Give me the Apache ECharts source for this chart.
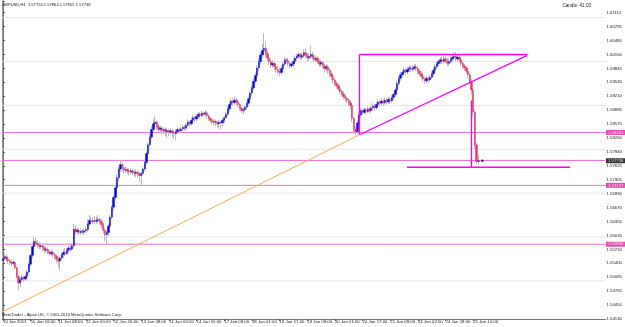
<!DOCTYPE html>
<html><head><meta charset="utf-8">
<script src="https://cdn.jsdelivr.net/npm/echarts@6/dist/echarts.min.js"></script>
<style>html,body{margin:0;padding:0;background:#fff;overflow:hidden}#c{width:625px;height:327px}</style>
</head><body><div id="c"></div>
<script>
const xTickLabels = ["10 Jan 2011","10 Jan 16:00","11 Jan 08:00","12 Jan 00:00","12 Jan 16:00","13 Jan 08:00","14 Jan 00:00","14 Jan 16:00","17 Jan 09:00","18 Jan 01:00","18 Jan 17:00","19 Jan 09:00","20 Jan 01:00","20 Jan 17:00","21 Jan 09:00","24 Jan 02:00","24 Jan 18:00","25 Jan 10:00"];
const barsPerTick = 16;
const totalSlots = 349;
const yTickLabels = ["1.54130","1.54450","1.54765","1.55085","1.55400","1.55720","1.56035","1.56355","1.56670","1.56990","1.57305","1.57625","1.57940","1.58260","1.58575","1.58895","1.59210","1.59530","1.59845","1.60160","1.60480","1.60795","1.61115"];
const yMin = 1.5413, yStep = 0.003175, yMax = 1.6138;
const gridLevels = [1.55,1.56,1.57,1.58,1.59,1.60,1.61];
const levelLines = [1.58383,1.57745,1.57177,1.55835];
const levelTags = ["1.58383","","1.57177","1.55835"];
const lastPrice = 1.57738;
const lastPriceTag = "1.57738";
const titleText = "GBPUSD,H1  1.57724 1.57864 1.57655 1.57738";
const timerText = "Candle: 41:03";
const copyrightText = "MetaTrader - Alpari UK, \u00a9 2001-2010 MetaQuotes Software Corp.";
const orangeTrend = [[-1,1.5428],[206.2,1.5833]];
const triangleTop = [[206.2,1.6016],[303.3,1.6016]];
const triangleLeft = [[206.2,1.6016],[206.2,1.5833]];
const triangleLower = [[206.2,1.5833],[303.3,1.6014]];
const shortLevel = [[233.7,1.5759],[328,1.5759]];
const verticalMark = [[271,1.5911],[271,1.5759]];
const priceDot = [[277.3,1.57738]];
// [open, close, low, high]
const candles = [
[1.5546,1.5551,1.5540,1.5560],[1.5551,1.5555,1.5546,1.5562],[1.5555,1.5549,1.5543,1.5560],[1.5549,1.5545,1.5539,1.5553],
[1.5545,1.5543,1.5536,1.5550],[1.5543,1.5540,1.5533,1.5548],[1.5540,1.5542,1.5535,1.5547],[1.5542,1.5530,1.5526,1.5546],
[1.5530,1.5510,1.5505,1.5533],[1.5510,1.5495,1.5478,1.5514],[1.5495,1.5503,1.5485,1.5508],[1.5503,1.5508,1.5497,1.5514],
[1.5508,1.5504,1.5498,1.5512],[1.5504,1.5510,1.5500,1.5516],[1.5510,1.5520,1.5506,1.5526],[1.5520,1.5538,1.5515,1.5542],
[1.5538,1.5558,1.5533,1.5562],[1.5558,1.5578,1.5552,1.5585],[1.5578,1.5590,1.5572,1.5600],[1.5590,1.5585,1.5578,1.5598],
[1.5585,1.5582,1.5575,1.5592],[1.5582,1.5578,1.5572,1.5588],[1.5578,1.5580,1.5573,1.5586],[1.5580,1.5575,1.5568,1.5584],
[1.5575,1.5570,1.5564,1.5579],[1.5570,1.5572,1.5564,1.5578],[1.5572,1.5566,1.5560,1.5576],[1.5566,1.5562,1.5556,1.5570],
[1.5562,1.5565,1.5557,1.5572],[1.5565,1.5560,1.5553,1.5569],[1.5560,1.5556,1.5548,1.5564],[1.5556,1.5550,1.5540,1.5560],
[1.5550,1.5545,1.5530,1.5555],[1.5545,1.5552,1.5523,1.5556],[1.5552,1.5560,1.5546,1.5565],[1.5560,1.5565,1.5553,1.5572],
[1.5565,1.5562,1.5556,1.5575],[1.5562,1.5570,1.5558,1.5576],[1.5570,1.5575,1.5563,1.5580],[1.5575,1.5572,1.5566,1.5582],
[1.5572,1.5580,1.5568,1.5586],[1.5580,1.5618,1.5576,1.5630],[1.5618,1.5612,1.5606,1.5626],[1.5612,1.5615,1.5607,1.5622],
[1.5615,1.5610,1.5604,1.5620],[1.5610,1.5613,1.5605,1.5619],[1.5613,1.5611,1.5606,1.5618],[1.5611,1.5614,1.5605,1.5620],
[1.5614,1.5617,1.5608,1.5625],[1.5617,1.5630,1.5612,1.5640],[1.5630,1.5638,1.5625,1.5650],[1.5638,1.5635,1.5628,1.5645],
[1.5635,1.5637,1.5630,1.5645],[1.5637,1.5636,1.5629,1.5648],[1.5636,1.5638,1.5630,1.5646],[1.5638,1.5640,1.5632,1.5650],
[1.5640,1.5635,1.5628,1.5644],[1.5635,1.5628,1.5620,1.5640],[1.5628,1.5615,1.5608,1.5632],[1.5615,1.5605,1.5590,1.5620],
[1.5605,1.5610,1.5582,1.5616],[1.5610,1.5625,1.5602,1.5630],[1.5625,1.5645,1.5620,1.5650],[1.5645,1.5668,1.5640,1.5672],
[1.5668,1.5690,1.5662,1.5695],[1.5690,1.5712,1.5685,1.5718],[1.5712,1.5735,1.5705,1.5742],[1.5735,1.5755,1.5728,1.5760],
[1.5755,1.5765,1.5748,1.5775],[1.5765,1.5758,1.5750,1.5770],[1.5758,1.5752,1.5745,1.5764],[1.5752,1.5754,1.5746,1.5760],
[1.5754,1.5750,1.5744,1.5758],[1.5750,1.5748,1.5740,1.5756],[1.5748,1.5751,1.5742,1.5757],[1.5751,1.5747,1.5740,1.5755],
[1.5747,1.5745,1.5738,1.5753],[1.5745,1.5748,1.5736,1.5754],[1.5748,1.5744,1.5734,1.5752],[1.5744,1.5740,1.5726,1.5748],
[1.5740,1.5745,1.5718,1.5750],[1.5745,1.5755,1.5740,1.5760],[1.5755,1.5770,1.5750,1.5776],[1.5770,1.5790,1.5765,1.5795],
[1.5790,1.5810,1.5784,1.5816],[1.5810,1.5828,1.5805,1.5835],[1.5828,1.5845,1.5822,1.5852],[1.5845,1.5858,1.5840,1.5868],
[1.5858,1.5862,1.5850,1.5875],[1.5862,1.5852,1.5845,1.5866],[1.5852,1.5845,1.5838,1.5858],[1.5845,1.5848,1.5836,1.5854],
[1.5848,1.5842,1.5835,1.5852],[1.5842,1.5845,1.5834,1.5850],[1.5845,1.5840,1.5830,1.5849],[1.5840,1.5843,1.5826,1.5848],
[1.5843,1.5839,1.5830,1.5847],[1.5839,1.5842,1.5833,1.5848],[1.5842,1.5838,1.5828,1.5846],[1.5838,1.5836,1.5824,1.5843],
[1.5836,1.5840,1.5820,1.5845],[1.5840,1.5845,1.5834,1.5850],[1.5845,1.5842,1.5836,1.5849],[1.5842,1.5846,1.5838,1.5852],
[1.5846,1.5850,1.5840,1.5856],[1.5850,1.5848,1.5842,1.5855],[1.5848,1.5855,1.5844,1.5860],[1.5855,1.5862,1.5850,1.5868],
[1.5862,1.5858,1.5852,1.5866],[1.5858,1.5866,1.5854,1.5872],[1.5866,1.5872,1.5860,1.5878],[1.5872,1.5869,1.5862,1.5876],
[1.5869,1.5875,1.5864,1.5880],[1.5875,1.5880,1.5870,1.5885],[1.5880,1.5877,1.5871,1.5884],[1.5877,1.5882,1.5873,1.5888],
[1.5882,1.5880,1.5874,1.5886],[1.5880,1.5883,1.5876,1.5889],[1.5883,1.5876,1.5870,1.5887],[1.5876,1.5870,1.5864,1.5880],
[1.5870,1.5866,1.5860,1.5874],[1.5866,1.5862,1.5856,1.5870],[1.5862,1.5864,1.5855,1.5869],[1.5864,1.5860,1.5852,1.5868],
[1.5860,1.5858,1.5850,1.5865],[1.5858,1.5862,1.5848,1.5866],[1.5862,1.5860,1.5845,1.5866],[1.5860,1.5866,1.5852,1.5870],
[1.5866,1.5872,1.5860,1.5876],[1.5872,1.5880,1.5868,1.5885],[1.5880,1.5892,1.5875,1.5898],[1.5892,1.5902,1.5886,1.5908],
[1.5902,1.5910,1.5896,1.5916],[1.5910,1.5906,1.5900,1.5916],[1.5906,1.5912,1.5902,1.5920],[1.5912,1.5908,1.5900,1.5918],
[1.5908,1.5902,1.5895,1.5913],[1.5902,1.5894,1.5888,1.5906],[1.5894,1.5888,1.5882,1.5898],[1.5888,1.5890,1.5880,1.5895],
[1.5890,1.5896,1.5884,1.5900],[1.5896,1.5905,1.5890,1.5910],[1.5905,1.5915,1.5900,1.5920],[1.5915,1.5928,1.5910,1.5934],
[1.5928,1.5940,1.5922,1.5946],[1.5940,1.5955,1.5935,1.5962],[1.5955,1.5968,1.5950,1.5975],[1.5968,1.5985,1.5962,1.5992],
[1.5985,1.6000,1.5978,1.6008],[1.6000,1.6015,1.5994,1.6022],[1.6015,1.6025,1.6008,1.6040],[1.6025,1.6030,1.6018,1.6065],
[1.6030,1.6018,1.6010,1.6045],[1.6018,1.6008,1.6000,1.6025],[1.6008,1.6000,1.5992,1.6015],[1.6000,1.5992,1.5985,1.6006],
[1.5992,1.5996,1.5986,1.6004],[1.5996,1.5988,1.5980,1.6000],[1.5988,1.5982,1.5975,1.5994],[1.5982,1.5978,1.5970,1.5990],
[1.5978,1.5975,1.5966,1.5986],[1.5975,1.5984,1.5970,1.5990],[1.5984,1.5994,1.5980,1.6000],[1.5994,1.6004,1.5990,1.6010],
[1.6004,1.6002,1.5996,1.6010],[1.6002,1.5996,1.5990,1.6008],[1.5996,1.5990,1.5984,1.6000],[1.5990,1.5994,1.5985,1.6000],
[1.5994,1.6000,1.5988,1.6006],[1.6000,1.6008,1.5996,1.6014],[1.6008,1.6012,1.6002,1.6018],[1.6012,1.6016,1.6006,1.6022],
[1.6016,1.6010,1.6004,1.6020],[1.6010,1.6014,1.6004,1.6020],[1.6014,1.6020,1.6008,1.6028],[1.6020,1.6015,1.6008,1.6030],
[1.6015,1.6008,1.6000,1.6020],[1.6008,1.6012,1.6002,1.6018],[1.6012,1.6016,1.6006,1.6036],[1.6016,1.6010,1.6004,1.6022],
[1.6010,1.6004,1.5998,1.6015],[1.6004,1.6008,1.5998,1.6014],[1.6008,1.6000,1.5994,1.6012],[1.6000,1.5994,1.5988,1.6006],
[1.5994,1.5998,1.5988,1.6004],[1.5998,1.5990,1.5984,1.6002],[1.5990,1.5984,1.5976,1.5995],[1.5984,1.5988,1.5978,1.5994],
[1.5988,1.5980,1.5972,1.5992],[1.5980,1.5972,1.5965,1.5985],[1.5972,1.5966,1.5958,1.5978],[1.5966,1.5958,1.5950,1.5970],
[1.5958,1.5950,1.5944,1.5962],[1.5950,1.5945,1.5938,1.5955],[1.5945,1.5938,1.5932,1.5950],[1.5938,1.5932,1.5926,1.5942],
[1.5932,1.5926,1.5920,1.5937],[1.5926,1.5920,1.5914,1.5932],[1.5920,1.5916,1.5908,1.5926],[1.5916,1.5912,1.5905,1.5920],
[1.5912,1.5906,1.5898,1.5917],[1.5906,1.5900,1.5892,1.5912],[1.5900,1.5870,1.5862,1.5904],[1.5870,1.5845,1.5835,1.5875],
[1.5845,1.5840,1.5832,1.5852],[1.5840,1.5860,1.5834,1.5868],[1.5860,1.5878,1.5855,1.5884],[1.5878,1.5888,1.5872,1.5894],
[1.5888,1.5884,1.5878,1.5892],[1.5884,1.5890,1.5880,1.5896],[1.5890,1.5886,1.5880,1.5894],[1.5886,1.5892,1.5882,1.5898],
[1.5892,1.5888,1.5882,1.5896],[1.5888,1.5894,1.5884,1.5900],[1.5894,1.5898,1.5888,1.5905],[1.5898,1.5895,1.5888,1.5904],
[1.5895,1.5902,1.5890,1.5908],[1.5902,1.5908,1.5896,1.5914],[1.5908,1.5905,1.5898,1.5912],[1.5905,1.5910,1.5900,1.5916],
[1.5910,1.5906,1.5900,1.5914],[1.5906,1.5912,1.5902,1.5918],[1.5912,1.5908,1.5902,1.5916],[1.5908,1.5914,1.5904,1.5920],
[1.5914,1.5910,1.5904,1.5918],[1.5910,1.5918,1.5906,1.5924],[1.5918,1.5925,1.5912,1.5930],[1.5925,1.5935,1.5920,1.5940],
[1.5935,1.5950,1.5930,1.5956],[1.5950,1.5962,1.5945,1.5968],[1.5962,1.5970,1.5956,1.5976],[1.5970,1.5975,1.5964,1.5982],
[1.5975,1.5980,1.5970,1.5986],[1.5980,1.5976,1.5970,1.5986],[1.5976,1.5982,1.5972,1.5988],[1.5982,1.5986,1.5976,1.5992],
[1.5986,1.5982,1.5976,1.5990],[1.5982,1.5985,1.5976,1.5992],[1.5985,1.5988,1.5980,1.5995],[1.5988,1.5984,1.5978,1.5994],
[1.5984,1.5978,1.5970,1.5990],[1.5978,1.5972,1.5966,1.5984],[1.5972,1.5966,1.5960,1.5978],[1.5966,1.5960,1.5954,1.5972],
[1.5960,1.5956,1.5950,1.5966],[1.5956,1.5962,1.5950,1.5968],[1.5962,1.5958,1.5952,1.5966],[1.5958,1.5964,1.5954,1.5970],
[1.5964,1.5972,1.5960,1.5978],[1.5972,1.5980,1.5966,1.5986],[1.5980,1.5988,1.5974,1.5994],[1.5988,1.5995,1.5982,1.6000],
[1.5995,1.6000,1.5990,1.6006],[1.6000,1.6004,1.5994,1.6010],[1.6004,1.6000,1.5994,1.6010],[1.6000,1.6006,1.5996,1.6012],
[1.6006,1.6002,1.5996,1.6012],[1.6002,1.5996,1.5990,1.6008],[1.5996,1.6000,1.5990,1.6006],[1.6000,1.6006,1.5995,1.6012],
[1.6006,1.6010,1.6000,1.6016],[1.6010,1.6012,1.6004,1.6020],[1.6012,1.6006,1.6000,1.6022],[1.6006,1.6010,1.6000,1.6016],
[1.6010,1.6004,1.5998,1.6014],[1.6004,1.5996,1.5990,1.6008],[1.5996,1.5990,1.5984,1.6000],[1.5990,1.5985,1.5978,1.5995],
[1.5985,1.5978,1.5972,1.5990],[1.5978,1.5970,1.5962,1.5982],[1.5970,1.5955,1.5948,1.5974],[1.5955,1.5935,1.5925,1.5960],
[1.5935,1.5885,1.5875,1.5940],[1.5885,1.5810,1.5800,1.5890],[1.5810,1.5772,1.5766,1.5815],[1.57724,1.57738,1.57655,1.57864]
];

const FONT = 'Liberation Sans';
const categories = [];
for (let i = 0; i < totalSlots; i++) {
  const k = i / barsPerTick;
  categories.push(i % barsPerTick === 0 && k < xTickLabels.length ? xTickLabels[k] : 'b' + i);
}
const showTick = (i) => i % barsPerTick === 0 && i / barsPerTick < xTickLabels.length;
const bodies = candles.map(c => [c[0], c[1], Math.min(c[0], c[1]), Math.max(c[0], c[1])]);
const xLeft = -0.5, xRight = totalSlots - 0.5;

function lineSeries(data, color, width, z) {
  return { type: 'line', xAxisIndex: 1, yAxisIndex: 0, data: data, symbol: 'none', silent: true,
    lineStyle: { color: color, width: width }, z: z || 3, animation: false };
}
function tagSeries(value, text, bg) {
  return { type: 'scatter', xAxisIndex: 1, yAxisIndex: 0, data: [[xRight, value]], symbolSize: 0, clip: false, silent: true, z: 10,
    label: { show: true, position: 'right', distance: 0.5, formatter: text, backgroundColor: bg, color: '#fff',
      fontSize: 4.3, fontFamily: FONT, padding: [1, 2, 0, 2] } };
}

const series = [];
gridLevels.forEach(v => series.push(lineSeries([[xLeft, v], [xRight, v]], '#e6e6f3', 1, 1)));
levelLines.forEach(v => series.push(lineSeries([[xLeft, v], [xRight, v]], '#ea70d8', 1, 2)));
series.push(
  { type: 'candlestick', name: 'wick', xAxisIndex: 0, yAxisIndex: 0, data: candles, barWidth: 1, silent: true, z: 4,
    itemStyle: { color: '#b9b9c2', color0: '#b9b9c2', borderColor: '#b9b9c2', borderColor0: '#b9b9c2', borderWidth: 1 } },
  { type: 'candlestick', name: 'body', xAxisIndex: 0, yAxisIndex: 0, data: bodies, barWidth: 1.9, silent: true, z: 5,
    itemStyle: { color: '#0000f0', color0: '#f0305a', borderColor: '#0000f0', borderColor0: '#f0305a', borderWidth: 0.4 } },
  lineSeries(orangeTrend, '#ffaa55', 1),
  lineSeries(triangleTop, '#ff00ff', 1.3, 6),
  lineSeries(triangleLeft, '#ff00ff', 1.3, 6),
  lineSeries(triangleLower, '#ff00ff', 1.3, 6),
  lineSeries(shortLevel, '#ff00ff', 1.3, 6),
  lineSeries(verticalMark, '#ff00ff', 1.3, 6),
  { type: 'scatter', xAxisIndex: 1, yAxisIndex: 0, data: priceDot, symbolSize: 2.5, itemStyle: { color: '#000' }, silent: true, z: 7 }
);
levelLines.forEach((v, i) => { if (levelTags[i]) series.push(tagSeries(v, levelTags[i], '#e0209a')); });
series.push(tagSeries(lastPrice, lastPriceTag, '#000'));

const chart = echarts.init(document.getElementById('c'), null, { renderer: 'canvas' });
chart.setOption({
  animation: false,
  backgroundColor: '#fff',
  title: [
    { text: titleText, left: 2, top: 3, padding: 0, textStyle: { fontSize: 4.1, fontWeight: 'normal', color: '#222', fontFamily: FONT } },
    { text: timerText, right: 34, top: 3, padding: 0, textStyle: { fontSize: 4.6, fontWeight: 'normal', color: '#222', fontFamily: FONT } },
    { text: copyrightText, left: 2, top: 313, padding: 0, textStyle: { fontSize: 4.1, fontWeight: 'normal', color: '#222', fontFamily: FONT } }
  ],
  grid: { left: 1, right: 17, top: 1, bottom: 8, containLabel: false },
  xAxis: [
    { type: 'category', data: categories, boundaryGap: true,
      axisLine: { show: true, lineStyle: { color: '#777', width: 1 } },
      axisTick: { show: true, alignWithLabel: true, interval: showTick, length: 2, lineStyle: { color: '#555' } },
      axisLabel: { interval: showTick, align: 'left', fontSize: 4.3, color: '#222', margin: 1, fontFamily: FONT },
      splitLine: { show: false } },
    { type: 'value', min: xLeft, max: xRight, show: false }
  ],
  yAxis: [
    { type: 'value', position: 'right', min: yMin, max: yMax, interval: yStep, scale: true,
      axisLine: { show: true, lineStyle: { color: '#777', width: 1 } },
      axisTick: { show: true, length: 2, lineStyle: { color: '#555' } },
      axisLabel: { fontSize: 4.3, color: '#222', margin: 1, fontFamily: FONT,
        formatter: (v) => { const k = (v - yMin) / yStep; const r = Math.round(k);
          return Math.abs(k - r) < 0.3 && yTickLabels[r] ? yTickLabels[r] : ''; } },
      splitLine: { show: false } },
    { type: 'value', position: 'left', min: yMin, max: yMax, axisLine: { show: true, lineStyle: { color: '#999' } },
      axisTick: { show: false }, axisLabel: { show: false }, splitLine: { show: false } }
  ],
  series: series
});
</script></body></html>
